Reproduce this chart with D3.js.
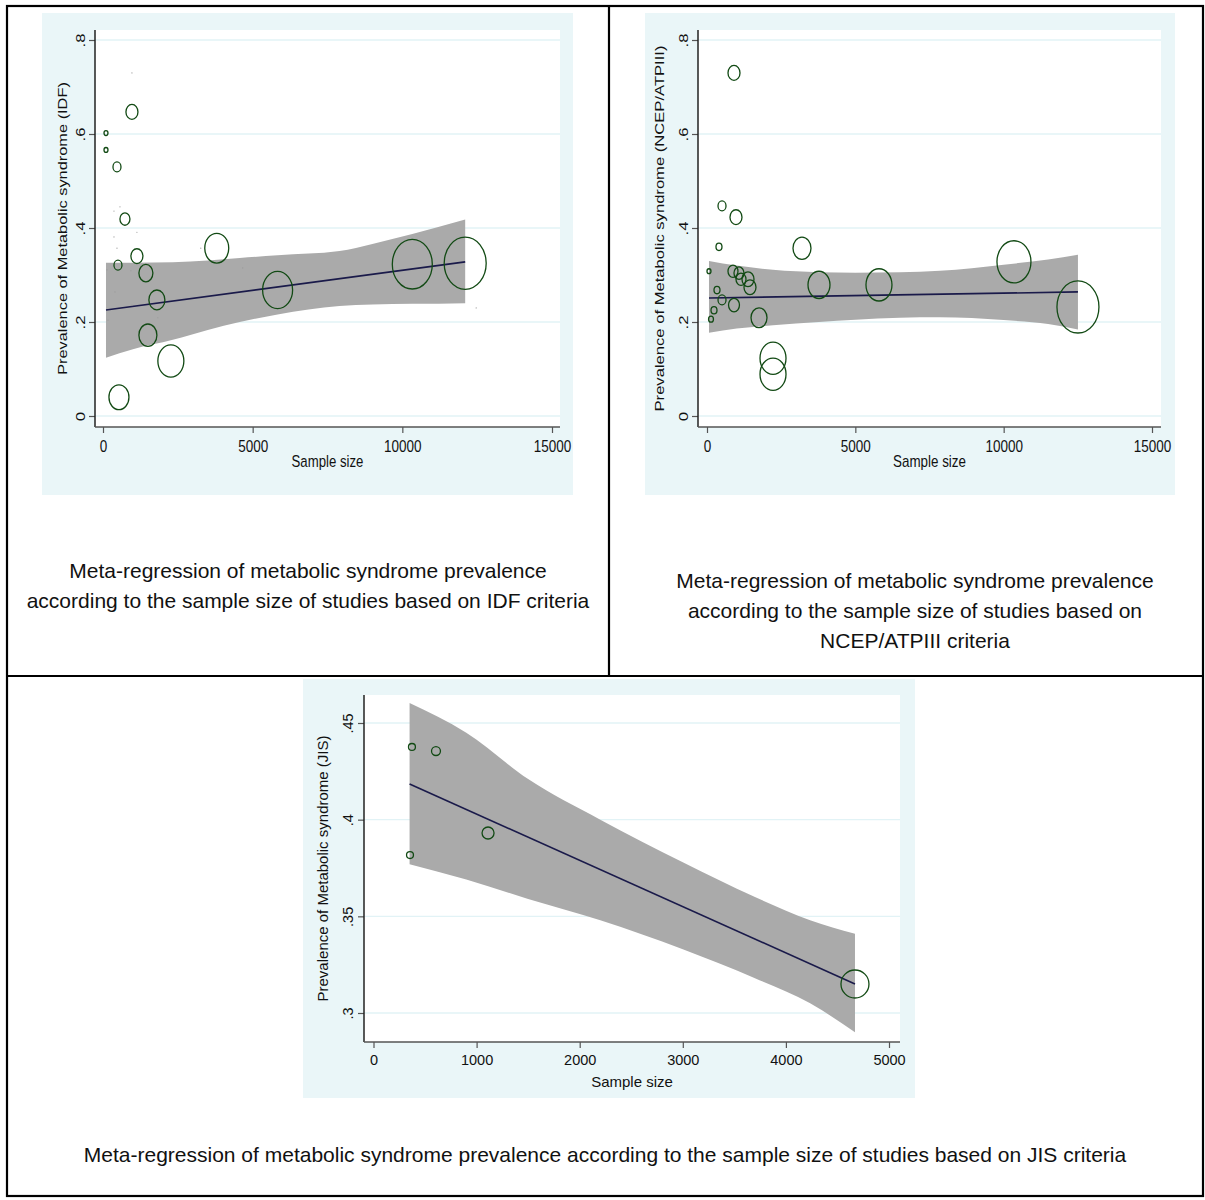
<!DOCTYPE html>
<html>
<head>
<meta charset="utf-8">
<script src="https://cdn.jsdelivr.net/npm/d3@7"></script>
<style>
  body { margin: 0; background: #fff; }
  svg { display: block; }
  text { font-family: "Liberation Sans", Arial, sans-serif; }
</style>
</head>
<body>
<svg id="page" width="1205" height="1200"></svg>
<script>
// ---- IDF panel data (sample size, prevalence, study weight) ----
const idfN = [967, 100, 100, 467, 733, 1133, 500, 1433, 1800, 1500, 2267, 533, 3800, 5833, 10333, 12100];
const idfP = [0.647, 0.602, 0.566, 0.530, 0.419, 0.340, 0.321, 0.304, 0.247, 0.172, 0.117, 0.040, 0.357, 0.268, 0.323, 0.325];
const idfW = [36, 4, 4, 16, 25, 36, 16, 49, 64, 81, 169, 100, 144, 225, 400, 441];
const idfFitN = [100, 12100];
const idfFitP = [0.2255, 0.328];
const idfBandN = [100, 1000, 2333, 3500, 4567, 5833, 7900, 9000, 10333, 11200, 12100];
const idfBandLo = [0.124, 0.142, 0.162, 0.183, 0.200, 0.216, 0.234, 0.237, 0.239, 0.239, 0.240];
const idfBandHi = [0.326, 0.326, 0.327, 0.331, 0.336, 0.342, 0.351, 0.366, 0.387, 0.402, 0.418];
const idfSpeckN = [967, 367, 567, 1133, 367, 467, 133, 933, 400, 967, 167, 1833, 3267, 4667, 12467];
const idfSpeckP = [0.730, 0.436, 0.445, 0.391, 0.381, 0.357, 0.311, 0.309, 0.264, 0.236, 0.204, 0.209, 0.357, 0.315, 0.230];

// ---- NCEP/ATPIII panel data ----
const ncepN = [910, 506, 977, 3202, 404, 67, 876, 1078, 1146, 1382, 1449, 337, 506, 910, 236, 135, 1753, 2225, 2225, 3775, 5797, 10347, 12504];
const ncepP = [0.730, 0.447, 0.423, 0.357, 0.360, 0.308, 0.308, 0.304, 0.291, 0.291, 0.274, 0.268, 0.247, 0.236, 0.225, 0.206, 0.209, 0.123, 0.089, 0.279, 0.279, 0.328, 0.232];
const ncepW = [36, 16, 36, 81, 9, 4, 25, 25, 25, 36, 36, 9, 16, 30, 9, 6, 64, 169, 169, 121, 169, 289, 441];
const ncepFitN = [67, 12504];
const ncepFitP = [0.251, 0.264];
const ncepBandN = [67, 1000, 2225, 3775, 5000, 6500, 7853, 10000, 11500, 12504];
const ncepBandLo = [0.177, 0.186, 0.193, 0.200, 0.205, 0.209, 0.210, 0.204, 0.196, 0.184];
const ncepBandHi = [0.330, 0.320, 0.311, 0.306, 0.305, 0.306, 0.309, 0.322, 0.333, 0.343];

// ---- JIS panel data ----
const jisN = [373, 606, 1111, 354, 4670];
const jisP = [0.4376, 0.4355, 0.3931, 0.3817, 0.315];
const jisW = [12, 20, 36, 12, 196];
const jisFitN = [350, 4670];
const jisFitP = [0.4185, 0.315];
const jisBandN = [350, 900, 1500, 2200, 3000, 3700, 4235, 4670];
const jisBandLo = [0.377, 0.369, 0.359, 0.348, 0.333, 0.318, 0.305, 0.290];
const jisBandHi = [0.4603, 0.445, 0.421, 0.400, 0.378, 0.360, 0.348, 0.341];

// ---- axis ticks and labels ----
const topXTicks = [0, 5000, 10000, 15000];
const topYTicks = [0, 0.2, 0.4, 0.6, 0.8];
const jisXTicks = [0, 1000, 2000, 3000, 4000, 5000];
const jisYTicks = [0.3, 0.35, 0.4, 0.45];
const xTitle = 'Sample size';
const yTitles = [
  'Prevalence of Metabolic syndrome (IDF)',
  'Prevalence of Metabolic syndrome (NCEP/ATPIII)',
  'Prevalence of Metabolic syndrome (JIS)'
];
const captionIdf = ['Meta-regression of metabolic syndrome prevalence',
  'according to the sample size of studies based on IDF criteria'];
const captionNcep = ['Meta-regression of metabolic syndrome prevalence',
  'according to the sample size of studies based on', 'NCEP/ATPIII criteria'];
const captionJis = ['Meta-regression of metabolic syndrome prevalence according to the sample size of studies based on JIS criteria'];

const svg = d3.select('#page');
const stataFmt = d => d === 0 ? '0' : String(d).replace(/^0\./, '.');

function zip(ns, ps, ws) {
  return ns.map((n, i) => ({ n, p: ps[i], w: ws ? ws[i] : 0 }));
}

function drawPanel(o) {
  const g = svg.append('g');
  const s = o.stretch;

  g.append('rect')
    .attr('x', o.bg[0]).attr('y', o.bg[1])
    .attr('width', o.bg[2]).attr('height', o.bg[3])
    .attr('fill', '#eaf6f8');

  g.append('rect')
    .attr('x', o.l).attr('y', o.t)
    .attr('width', o.r - o.l).attr('height', o.b - o.t)
    .attr('fill', '#fff');

  const x = d3.scaleLinear().domain(o.xd).range(o.xr);
  const y = d3.scaleLinear().domain(o.yd).range(o.yr);
  const rScale = d3.scaleSqrt().domain([0, d3.max(o.w)]).range([0, o.rMax]);

  // grid
  g.selectAll('.grid')
    .data(o.yTicks)
    .enter()
    .append('line')
    .attr('x1', o.l).attr('x2', o.r)
    .attr('y1', d => y(d)).attr('y2', d => y(d))
    .attr('stroke', '#e2f3f6')
    .attr('stroke-width', 1.3);

  // confidence band
  const band = o.bandN.map((n, i) => ({ n, lo: o.bandLo[i], hi: o.bandHi[i] }));
  g.append('path')
    .datum(band)
    .attr('fill', '#aaaaaa')
    .attr('d', d3.area()
      .x(d => x(d.n))
      .y0(d => y(d.lo))
      .y1(d => y(d.hi))
      .curve(d3.curveMonotoneX));

  // fitted line
  g.append('path')
    .datum(zip(o.fitN, o.fitP))
    .attr('fill', 'none')
    .attr('stroke', '#1a1a4a')
    .attr('stroke-width', 1.6)
    .attr('d', d3.line().x(d => x(d.n)).y(d => y(d.p)));

  // tiny specks
  if (o.speckN) {
    g.selectAll('.speck')
      .data(zip(o.speckN, o.speckP))
      .enter()
      .append('circle')
      .attr('cx', d => x(d.n)).attr('cy', d => y(d.p))
      .attr('r', 0.6)
      .attr('fill', '#999');
  }

  // weighted markers
  g.selectAll('.study')
    .data(zip(o.n, o.p, o.w))
    .enter()
    .append('ellipse')
    .attr('cx', d => x(d.n))
    .attr('cy', d => y(d.p))
    .attr('rx', d => rScale(d.w))
    .attr('ry', d => rScale(d.w) * s)
    .attr('fill', 'none')
    .attr('stroke', '#124a14')
    .attr('stroke-width', 1.3);

  // axes
  const yAxis = g.append('g')
    .attr('transform', `translate(${o.l},0)`)
    .call(d3.axisLeft(y).tickValues(o.yTicks).tickFormat(stataFmt).tickSize(6).tickSizeOuter(0));
  yAxis.select('.domain').remove();
  yAxis.selectAll('line').attr('stroke', '#555').attr('stroke-width', 1.2);
  yAxis.selectAll('text')
    .attr('x', 0).attr('y', -o.yTickGap).attr('dy', 0)
    .attr('text-anchor', 'middle')
    .attr('transform', `scale(1,${s}) rotate(-90)`)
    .attr('font-size', o.tickFont)
    .attr('fill', '#111');

  const xAxis = g.append('g')
    .attr('transform', `translate(0,${o.b})`)
    .call(d3.axisBottom(x).tickValues(o.xTicks).tickFormat(d => d).tickSize(6).tickSizeOuter(0));
  xAxis.select('.domain').remove();
  xAxis.selectAll('line').attr('stroke', '#555').attr('stroke-width', 1.2);
  xAxis.selectAll('text')
    .attr('y', 0).attr('dy', '0.72em')
    .attr('transform', `translate(0,${o.xTickGap}) scale(1,${s})`)
    .attr('font-size', o.tickFont)
    .attr('fill', '#111');

  // axis lines on plot region edges
  g.append('line')
    .attr('x1', o.l).attr('x2', o.l).attr('y1', o.t).attr('y2', o.b)
    .attr('stroke', '#222').attr('stroke-width', 1.5);
  g.append('line')
    .attr('x1', o.l).attr('x2', o.r).attr('y1', o.b).attr('y2', o.b)
    .attr('stroke', '#555').attr('stroke-width', 1.5);

  // titles
  g.append('text')
    .attr('transform', `translate(${(o.l + o.r) / 2},${o.xTitleY}) scale(1,${s})`)
    .attr('text-anchor', 'middle')
    .attr('font-size', o.titleFont)
    .attr('fill', '#111')
    .text(xTitle);

  g.append('text')
    .attr('transform', `translate(${o.yTitleX},${(o.t + o.b) / 2}) scale(1,${s}) rotate(-90)`)
    .attr('text-anchor', 'middle')
    .attr('font-size', o.titleFont)
    .attr('fill', '#111')
    .text(o.yTitle);
}

drawPanel({
  bg: [42, 13, 531, 482], l: 95, r: 560, t: 30, b: 427,
  xd: [0, 15000], xr: [103, 552], yd: [0, 0.8], yr: [416, 40],
  xTicks: topXTicks, yTicks: topYTicks, stretch: 1.24, rMax: 21,
  tickFont: 13.5, titleFont: 13.2, yTickGap: 10, xTickGap: 13, xTitleY: 467, yTitleX: 67,
  n: idfN, p: idfP, w: idfW, fitN: idfFitN, fitP: idfFitP,
  bandN: idfBandN, bandLo: idfBandLo, bandHi: idfBandHi,
  speckN: idfSpeckN, speckP: idfSpeckP, yTitle: yTitles[0]
});

drawPanel({
  bg: [645, 13, 530, 482], l: 698, r: 1161, t: 30, b: 427,
  xd: [0, 15000], xr: [707, 1152], yd: [0, 0.8], yr: [416, 40],
  xTicks: topXTicks, yTicks: topYTicks, stretch: 1.24, rMax: 21,
  tickFont: 13.5, titleFont: 13.4, yTickGap: 10, xTickGap: 13, xTitleY: 467, yTitleX: 664,
  n: ncepN, p: ncepP, w: ncepW, fitN: ncepFitN, fitP: ncepFitP,
  bandN: ncepBandN, bandLo: ncepBandLo, bandHi: ncepBandHi, yTitle: yTitles[1]
});

drawPanel({
  bg: [303, 679, 612, 419], l: 364, r: 900, t: 695, b: 1042,
  xd: [0, 5000], xr: [373.5, 889], yd: [0.3, 0.45], yr: [1013, 723],
  xTicks: jisXTicks, yTicks: jisYTicks, stretch: 1, rMax: 14,
  tickFont: 14.5, titleFont: 15, yTickGap: 11, xTickGap: 13, xTitleY: 1087, yTitleX: 328,
  n: jisN, p: jisP, w: jisW, fitN: jisFitN, fitP: jisFitP,
  bandN: jisBandN, bandLo: jisBandLo, bandHi: jisBandHi, yTitle: yTitles[2]
});

// captions
function caption(lines, cx, y0, step) {
  svg.append('g').selectAll('text')
    .data(lines)
    .enter()
    .append('text')
    .attr('x', cx)
    .attr('y', (d, i) => y0 + i * step)
    .attr('text-anchor', 'middle')
    .attr('font-size', 21)
    .attr('fill', '#111')
    .text(d => d);
}
caption(captionIdf, 308, 578, 30);
caption(captionNcep, 915, 588, 30);
caption(captionJis, 605, 1162, 30);

// table borders
const borders = svg.append('g').attr('stroke', '#000').attr('stroke-width', 2.2);
borders.append('rect').attr('x', 7).attr('y', 6).attr('width', 1196).attr('height', 1190).attr('fill', 'none');
borders.append('line').attr('x1', 609).attr('x2', 609).attr('y1', 6).attr('y2', 676);
borders.append('line').attr('x1', 7).attr('x2', 1203).attr('y1', 676).attr('y2', 676);
</script>
</body>
</html>
